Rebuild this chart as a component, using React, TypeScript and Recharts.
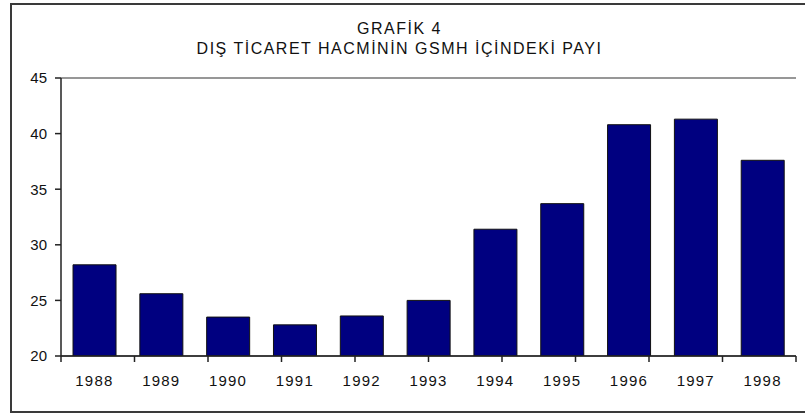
import React from "react";
import {
  BarChart,
  Bar,
  XAxis,
  YAxis,
  CartesianGrid,
  ReferenceLine,
} from "recharts";

const years = ["1988", "1989", "1990", "1991", "1992", "1993", "1994", "1995", "1996", "1997", "1998"];
const shares = [28.2, 25.6, 23.5, 22.8, 23.6, 25.0, 31.4, 33.7, 40.8, 41.3, 37.6];
const yTicks = [20, 25, 30, 35, 40, 45];
const boundaryTicks = [0, 1, 2, 3, 4, 5, 6, 7, 8, 9, 10, 11];
const titleLine1 = "GRAFİK 4";
const titleLine2 = "DIŞ TİCARET HACMİNİN GSMH İÇİNDEKİ PAYI";

const data = years.map((y, i) => ({ year: y, value: shares[i] }));

const FONT = '"Liberation Sans", Arial, Helvetica, sans-serif';

const EmptyTick = () => <g />;

export default function App() {
  return (
    <div
      style={{
        position: "absolute",
        left: 0,
        top: 0,
        width: 805,
        height: 415,
        background: "#fff",
        overflow: "hidden",
        fontFamily: FONT,
      }}
    >
      <div
        style={{
          position: "absolute",
          left: 10,
          top: 3,
          width: 800,
          height: 406,
          border: "2px solid #3a3a3a",
        }}
      />
      <div
        style={{
          position: "absolute",
          left: 0,
          width: 805,
          top: 19,
          textAlign: "center",
          fontSize: 16,
          lineHeight: "20px",
          color: "#111",
          letterSpacing: 1.5,
        }}
      >
        <div style={{ marginLeft: -6 }}>{titleLine1}</div>
        <div style={{ marginLeft: -6 }}>{titleLine2}</div>
      </div>
      <div style={{ position: "absolute", left: 0, top: 0 }}>
        <BarChart
          width={805}
          height={415}
          data={data}
          margin={{ top: 78, right: 9, left: 0, bottom: 19 }}
          barCategoryGap="18%"
        >
          <CartesianGrid vertical={false} stroke="#222" strokeWidth={1.2} />
          <XAxis
            xAxisId="a"
            type="number"
            domain={[0, 11]}
            ticks={boundaryTicks}
            tick={<EmptyTick />}
            interval={0}
            height={1}
            tickSize={6}
            axisLine={{ stroke: "#222", strokeWidth: 1.5 }}
            tickLine={{ stroke: "#222", strokeWidth: 1.5 }}
            allowDataOverflow
          />
          <XAxis
            xAxisId="b"
            dataKey="year"
            height={39}
            axisLine={false}
            tickLine={false}
            tickSize={0}
            tickMargin={18}
            tick={{ fill: "#111", fontSize: 15, fontFamily: FONT, letterSpacing: 1.2 }}
            interval={0}
          />
          <YAxis
            yAxisId="l"
            domain={[20, 45]}
            ticks={yTicks}
            width={61}
            tickSize={6}
            tickMargin={8}
            axisLine={{ stroke: "#222", strokeWidth: 1.5 }}
            tickLine={{ stroke: "#222", strokeWidth: 1.5 }}
            tick={{ fill: "#111", fontSize: 15, fontFamily: FONT }}
            allowDataOverflow
          />
          <ReferenceLine yAxisId="l" xAxisId="a" y={45} stroke="#9a9a9a" strokeWidth={1.5} />
          <ReferenceLine yAxisId="l" xAxisId="a" x={11} stroke="#9a9a9a" strokeWidth={1.5} />
          <Bar
            xAxisId="b"
            yAxisId="l"
            dataKey="value"
            fill="#000080"
            stroke="#111"
            strokeWidth={1}
            isAnimationActive={false}
          />
        </BarChart>
      </div>
    </div>
  );
}
